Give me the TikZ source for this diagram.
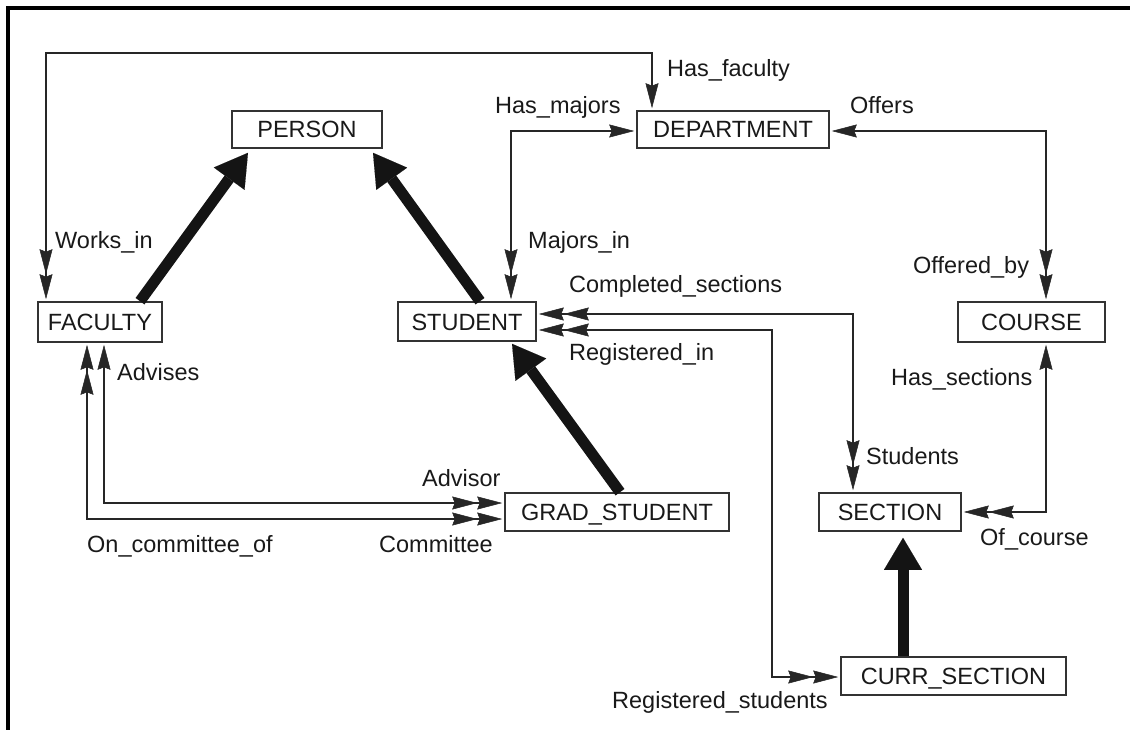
\documentclass[tikz,border=0pt]{standalone}
\usepackage{fontspec}
\setmainfont{Liberation Sans}
\usetikzlibrary{arrows.meta,calc}

\begin{document}
\begin{tikzpicture}[x=1pt,y=-1pt,
  entity/.style={draw=black!80, line width=1.6pt, fill=white, inner sep=0pt,
    text height=17pt, text depth=0pt, minimum height=38pt,
    font=\fontsize{23.5}{28}\selectfont, text=black!90},
  lbl/.style={anchor=base west, inner sep=0pt,
    font=\fontsize{23.5}{28}\selectfont, text=black!90},
  rel/.style={draw=black!85, line width=1.7pt, shorten <=2pt, shorten >=2pt},
  isa/.style={draw=black!92, line width=11pt,
    -{Triangle[length=32pt,width=38pt,line width=0.1pt]}},
  Sg/.tip={Stealth[length=25pt,width=13pt,inset=2.5pt,line width=0.5pt]},
  Db/.tip={Stealth[length=25pt,width=13pt,inset=2.5pt,line width=0.5pt]
           Stealth[length=25pt,width=13pt,inset=2.5pt,line width=0.5pt]},
]
\useasboundingbox (0,0) rectangle (1130,730);

% frame
\draw[line width=3.5pt] (8,740) -- (8,8) -- (1140,8);

% classes
\node[entity, minimum width=150pt, minimum height=37pt] (person)     at (307,129.5) {PERSON};
\node[entity, minimum width=192pt, minimum height=37pt] (department) at (733,129.5) {DEPARTMENT};
\node[entity, minimum width=147pt, minimum height=40pt] (course)     at (1031.5,322) {COURSE};
\node[entity, minimum width=124pt, minimum height=40pt] (faculty)    at (100,322) {FACULTY};
\node[entity, minimum width=138pt, minimum height=39pt] (student)    at (467,321.5) {STUDENT};
\node[entity, minimum width=224pt] (grad)    at (617,512) {GRAD\_STUDENT};
\node[entity, minimum width=142pt] (section) at (890,512) {SECTION};
\node[entity, minimum width=225pt] (curr)    at (953.5,676) {CURR\_SECTION};

% inheritance
\draw[isa] ([xshift=40pt]faculty.north) -- ([xshift=-59pt,yshift=-4pt]person.south);
\draw[isa] ([xshift=13pt]student.north) -- ([xshift=66pt,yshift=-4pt]person.south);
\draw[isa] ([xshift=3pt]grad.north) -- ([xshift=45pt,yshift=-2pt]student.south);
\draw[isa] ([xshift=-50.5pt]curr.north) -- ([xshift=13pt,yshift=-6pt]section.south);

% relationships
\draw[rel, {Sg}-{Db}] ([xshift=-81pt]department.north) -- ++(0,-57) -| ([xshift=-54pt]faculty.north);
\draw[rel, {Db}-{Sg}] ([xshift=44pt]student.north) |- ([yshift=-1.5pt]department.west);
\draw[rel, {Sg}-{Db}] ([yshift=-1.5pt]department.east) -| ([xshift=14.5pt]course.north);
\draw[rel, {Sg}-{Db}] ([xshift=14.5pt]course.south) |- (section.east);
\draw[rel, {Db}-{Db}] ([yshift=7.5pt]student.east) -| ([xshift=-37pt]section.north);
\draw[rel, {Db}-{Db}] ([yshift=-8.5pt]student.east) -- ++(235,0) |- ([yshift=-1pt]curr.west);
\draw[rel, {Sg}-{Db}] ([xshift=4pt]faculty.south) |- ([yshift=9pt]grad.west);
\draw[rel, {Db}-{Db}] ([xshift=-13pt]faculty.south) |- ([yshift=-7pt]grad.west);

% relationship names
\node[lbl] (l1)  at (667,77)  {Has\_faculty};
\node[lbl] (l2)  at (55,249)  {Works\_in};
\node[lbl] (l3)  at (495,114) {Has\_majors};
\node[lbl] (l4)  at (528,249) {Majors\_in};
\node[lbl] (l5)  at (850,114) {Offers};
\node[lbl] (l6)  at (913,273) {Offered\_by};
\node[lbl] (l7)  at (569,292) {Completed\_sections};
\node[lbl] (l8)  at (569,360) {Registered\_in};
\node[lbl] (l9)  at (117,380) {Advises};
\node[lbl] (l10) at (422,486) {Advisor};
\node[lbl] (l11) at (87,552)  {On\_committee\_of};
\node[lbl] (l12) at (379,552) {Committee};
\node[lbl] (l13) at (891,385) {Has\_sections};
\node[lbl] (l14) at (866,464) {Students};
\node[lbl] (l15) at (980,545) {Of\_course};
\node[lbl] (l16) at (612,708) {Registered\_students};
\end{tikzpicture}
\end{document}
